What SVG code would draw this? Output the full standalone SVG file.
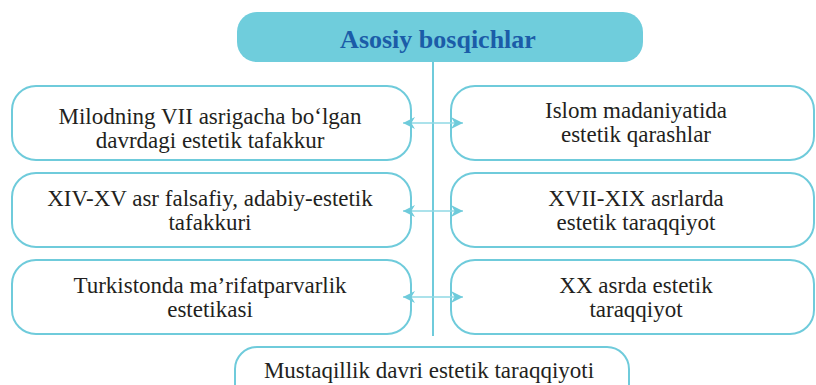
<svg xmlns="http://www.w3.org/2000/svg" width="816" height="385" viewBox="0 0 816 385">
<style>
.box{fill:#fff;stroke:#6fcbdb;stroke-width:2}
.t{font-family:"Liberation Serif","DejaVu Serif",serif;font-size:23px;fill:#231f20;text-anchor:middle}
.title{font-family:"Liberation Serif","DejaVu Serif",serif;font-size:26px;font-weight:bold;fill:#1b5ca8;text-anchor:middle}
.ln{stroke:#6fcbdb;stroke-width:2;fill:none}
.ar{stroke:#8fd8e4;stroke-width:1.5;fill:none;marker-start:url(#ah);marker-end:url(#ah)}
</style>
<defs>
<marker id="ah" viewBox="0 0 10 10" refX="10" refY="5" markerWidth="12" markerHeight="12" markerUnits="userSpaceOnUse" orient="auto-start-reverse">
<path d="M0,0 L10,5 L0,10 L3,5 Z" fill="#6fcbdb"/>
</marker>
</defs>
<g id="title">
<rect x="237" y="12" width="406" height="50" rx="20" fill="#6fcddc"/>
<text class="title" x="438" y="48">Asosiy bosqichlar</text>
</g>
<g id="n1">
<rect class="box" x="12" y="86" width="399" height="74" rx="24"/>
<text class="t" x="210" y="124">Milodning VII asrigacha bo‘lgan</text>
<text class="t" x="210" y="148">davrdagi estetik tafakkur</text>
</g>
<g id="n2">
<rect class="box" x="451" y="86" width="363" height="74" rx="24"/>
<text class="t" x="636" y="118">Islom madaniyatida</text>
<text class="t" x="636" y="142">estetik qarashlar</text>
</g>
<g id="n3">
<rect class="box" x="12" y="173" width="399" height="74" rx="24"/>
<text class="t" x="210" y="206">XIV-XV asr falsafiy, adabiy-estetik</text>
<text class="t" x="210" y="230">tafakkuri</text>
</g>
<g id="n4">
<rect class="box" x="451" y="173" width="363" height="74" rx="24"/>
<text class="t" x="636" y="206">XVII-XIX asrlarda</text>
<text class="t" x="636" y="230">estetik taraqqiyot</text>
</g>
<g id="n5">
<rect class="box" x="12" y="260" width="399" height="74" rx="24"/>
<text class="t" x="210" y="293">Turkistonda ma’rifatparvarlik</text>
<text class="t" x="210" y="317">estetikasi</text>
</g>
<g id="n6">
<rect class="box" x="451" y="260" width="363" height="74" rx="24"/>
<text class="t" x="636" y="293">XX asrda estetik</text>
<text class="t" x="636" y="317">taraqqiyot</text>
</g>
<g id="n7">
<rect class="box" x="235" y="347" width="394" height="60" rx="22"/>
<text class="t" x="429" y="378">Mustaqillik davri estetik taraqqiyoti</text>
</g>
<g id="connectors">
<line class="ln" x1="433" y1="62" x2="433" y2="336"/>
<line class="ar" x1="403" y1="123" x2="463" y2="123"/>
<line class="ar" x1="403" y1="211" x2="463" y2="211"/>
<line class="ar" x1="403" y1="297" x2="463" y2="297"/>
</g>
</svg>
